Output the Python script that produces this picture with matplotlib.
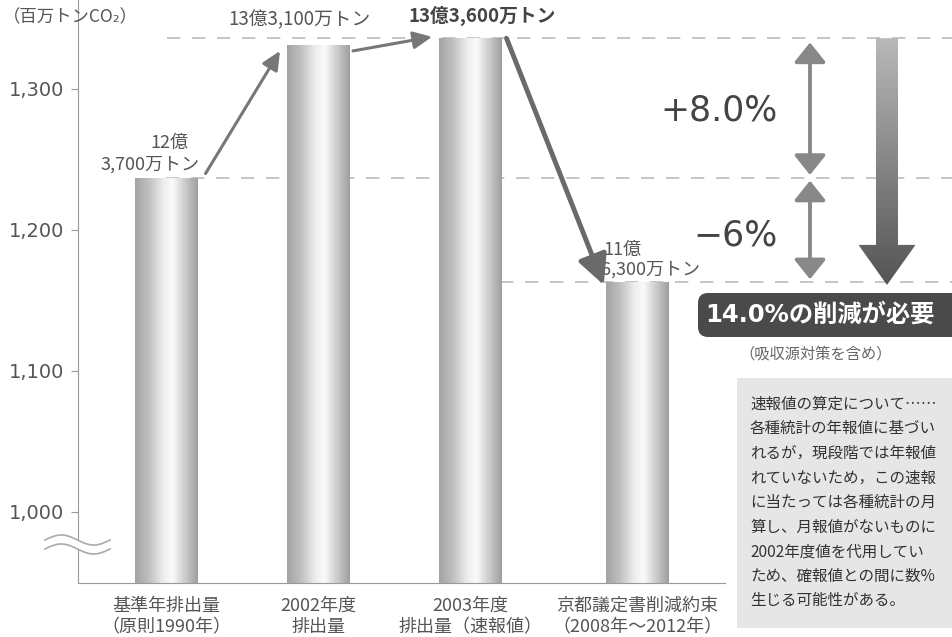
import numpy as np
import matplotlib
matplotlib.use("Agg")
import matplotlib.pyplot as plt
from matplotlib.patches import Polygon, Rectangle, FancyBboxPatch
from matplotlib.lines import Line2D

plt.rcParams['font.family'] = ['Noto Sans CJK JP', 'DejaVu Sans']

# data (百万トンCO2)
categories = ["基準年排出量\n（原則1990年）", "2002年度\n排出量",
              "2003年度\n排出量（速報値）", "京都議定書削減約束\n（2008年〜2012年）"]
emissions = [1237, 1331, 1336, 1163]
value_labels = [("12億", "3,700万トン"), "13億3,100万トン", "13億3,600万トン", ("11億", "6,300万トン")]
yticks = [1000, 1100, 1200, 1300]
ytick_labels = ["1,000", "1,100", "1,200", "1,300"]
pct_up = "+8.0%"
pct_down = "−6%"
need_text = "14.0%の削減が必要"
need_note = "（吸収源対策を含め）"
# only the part visible in the original (it is cut at the right edge)
note_lines = ["速報値の算定について……",
              "各種統計の年報値に基づい",
              "れるが，現段階では年報値",
              "れていないため，この速報",
              "に当たっては各種統計の月",
              "算し、月報値がないものに",
              "2002年度値を代用してい",
              "ため、確報値との間に数%",
              "生じる可能性がある。"]

# layout
W, H = 953, 637
xpos = np.array([0, 1, 2, 3.1])
bar_w = 0.41
XMIN = -0.579
XMAX = XMIN + 875 / 152
YMIN, YMAX = 949.6, 1363.1


def xd(px):
    return XMIN + (px - 78) / 152


def P(px, py):
    return px / 100.0, (H - py) / 100.0


fig = plt.figure(figsize=(W / 100, H / 100), dpi=100)
ax = fig.add_axes([78 / W, (H - 583) / H, 875 / W, 583 / H])
ax.set_xlim(XMIN, XMAX)
ax.set_ylim(YMIN, YMAX)
ax.set_autoscale_on(False)

for s in ["top", "right"]:
    ax.spines[s].set_visible(False)
ax.spines["left"].set_color("#999999")
ax.spines["bottom"].set_color("#999999")
ax.spines["bottom"].set_bounds(XMIN, xd(725))

ax.set_yticks(yticks)
ax.set_yticklabels(ytick_labels, fontfamily="DejaVu Sans", fontsize=14, color="#555555")
ax.tick_params(axis="y", length=5, color="#999999", pad=5)
ax.set_xticks(xpos)
ax.set_xticklabels(categories, fontsize=13, color="#555555", linespacing=1.25)
ax.tick_params(axis="x", length=0, pad=10)

# dashed reference lines
dash = dict(color="#bbbbbb", lw=1.2, linestyle=(0, (8, 7)), zorder=0)
ax.hlines(emissions[2], xd(167), XMAX, **dash)
ax.hlines(emissions[0], xpos[0], XMAX, **dash)
ax.hlines(emissions[3], xd(500), XMAX, **dash)

# bars with cylinder shading
bars = ax.bar(xpos, emissions, width=bar_w, color="none", edgecolor="none", zorder=2)
stops = [0, 0.2, 0.45, 0.6, 0.8, 1.0]
levels = [0.64, 0.74, 0.93, 0.98, 0.80, 0.62]
grad = np.interp(np.linspace(0, 1, 64), stops, levels)
for b, x, v in zip(bars, xpos, emissions):
    im = ax.imshow(np.tile(grad, (2, 1)), cmap="gray", vmin=0, vmax=1, aspect="auto",
                   extent=(x - bar_w / 2, x + bar_w / 2, YMIN, v), origin="lower", zorder=2)
    im.set_clip_path(b)

# value labels
ax.text(xpos[0] + 0.02, emissions[0] + 25, value_labels[0][0], ha="center", va="center",
        fontsize=13, color="#555555")
ax.text(xpos[0] + 0.22, emissions[0] + 9, value_labels[0][1], ha="right", va="center",
        fontsize=13, color="#555555")
ax.text(xpos[1] - 0.12, 1349, value_labels[1], ha="center", va="center",
        fontsize=13.5, color="#555555")
ax.text(xpos[2] + 0.08, 1352, value_labels[2], ha="center", va="center",
        fontsize=13.5, color="#444444", fontweight="bold")
ax.text(xpos[3] - 0.22, emissions[3] + 23, value_labels[3][0], ha="left", va="center",
        fontsize=13, color="#555555")
ax.text(xpos[3] - 0.24, emissions[3] + 9, value_labels[3][1], ha="left", va="center",
        fontsize=13, color="#555555")

# trend arrows
ax.annotate("", xy=(xpos[1] - 0.25, emissions[1] - 4), xytext=(xpos[0] + 0.26, emissions[0] + 3),
            arrowprops=dict(arrowstyle="-|>,head_length=0.75,head_width=0.35", lw=2.2,
                            color="#777777", shrinkA=0, shrinkB=0, mutation_scale=15), zorder=4)
ax.annotate("", xy=(xpos[2] - 0.25, emissions[2] + 1), xytext=(xpos[1] + 0.23, emissions[1] - 4),
            arrowprops=dict(arrowstyle="-|>,head_length=0.75,head_width=0.35", lw=2.2,
                            color="#777777", shrinkA=0, shrinkB=0, mutation_scale=15), zorder=4)
ax.annotate("", xy=(xpos[3] - 0.22, emissions[3] - 2), xytext=(xpos[2] + 0.24, emissions[2]),
            arrowprops=dict(arrowstyle="-|>,head_length=0.9,head_width=0.45", lw=3.5,
                            color="#6a6a6a", shrinkA=0, shrinkB=0, mutation_scale=20), zorder=4)

# double-headed change arrows
dx = xd(810)
dbl = dict(arrowstyle="<|-|>,head_length=0.6,head_width=0.48", lw=2.8, color="#888888",
           shrinkA=0, shrinkB=0, mutation_scale=20)
ax.annotate("", xy=(dx, emissions[2] - 3), xytext=(dx, emissions[0] + 2), arrowprops=dbl)
ax.annotate("", xy=(dx, emissions[0] - 2), xytext=(dx, emissions[3] + 2), arrowprops=dbl)
ax.text(xd(778), 1285, pct_up, ha="right", va="center", fontsize=25,
        fontfamily="DejaVu Sans", color="#444444")
ax.text(xd(778), 1196, pct_down, ha="right", va="center", fontsize=25,
        fontfamily="DejaVu Sans", color="#444444")

# big gradient arrow
cx = xd(887)
hs, hh, hl = 11 / 152, 28.5 / 152, 28.4
top, tip = emissions[2], emissions[3] - 2
big = Polygon([(cx - hs, top), (cx + hs, top), (cx + hs, tip + hl), (cx + hh, tip + hl),
               (cx, tip), (cx - hh, tip + hl), (cx - hs, tip + hl)],
              closed=True, facecolor="none", edgecolor="none")
ax.add_patch(big)
vgrad = np.linspace(0.33, 0.72, 64).reshape(-1, 1)
im = ax.imshow(np.tile(vgrad, (1, 2)), cmap="gray", vmin=0, vmax=1, aspect="auto",
               extent=(cx - hh, cx + hh, tip, top), origin="lower", zorder=3)
im.set_clip_path(big)

# y-axis unit
fig.text(*P(3, 17), "（百万トンCO₂）", transform=fig.dpi_scale_trans, ha="left", va="center",
         fontsize=12.5, color="#555555")

# axis break squiggle
t = np.linspace(0, 1, 60)
sx = 45 + 65 * t
sy1 = 540 - 5 * np.sin(2 * np.pi * t)
sy2 = sy1 + 9
pts_top = [P(a, b) for a, b in zip(sx, sy1)]
pts_bot = [P(a, b) for a, b in zip(sx[::-1], sy2[::-1])]
fig.add_artist(Polygon(pts_top + pts_bot, closed=True, facecolor="white", edgecolor="none",
                       transform=fig.dpi_scale_trans))
for sy in (sy1, sy2):
    xs, ys = zip(*[P(a, b) for a, b in zip(sx, sy)])
    fig.add_artist(Line2D(xs, ys, color="#aaaaaa", lw=1.2, transform=fig.dpi_scale_trans))

# reduction box
bx, by = P(698, 337)
fig.add_artist(FancyBboxPatch((bx, by), 3.0, 0.44, boxstyle="round,pad=0,rounding_size=0.1",
                              facecolor="#4a4a4a", edgecolor="none", transform=fig.dpi_scale_trans))
fig.text(*P(705, 315), need_text, transform=fig.dpi_scale_trans, ha="left", va="center",
         fontsize=17.5, fontweight="bold", color="white",
         fontfamily=["DejaVu Sans", "Noto Sans CJK JP"])
fig.text(*P(816, 354), need_note, transform=fig.dpi_scale_trans, ha="center", va="center",
         fontsize=11, color="#666666")

# note box
rx, ry = P(737, 628)
fig.add_artist(Rectangle((rx, ry), 2.3, 2.5, facecolor="#e6e6e6", edgecolor="none",
                         transform=fig.dpi_scale_trans))
for i, line in enumerate(note_lines):
    fig.text(*P(750, 404 + i * 24.6), line, transform=fig.dpi_scale_trans, ha="left",
             va="center", fontsize=11.2, color="#333333")

fig.savefig("out.png", dpi=100)
